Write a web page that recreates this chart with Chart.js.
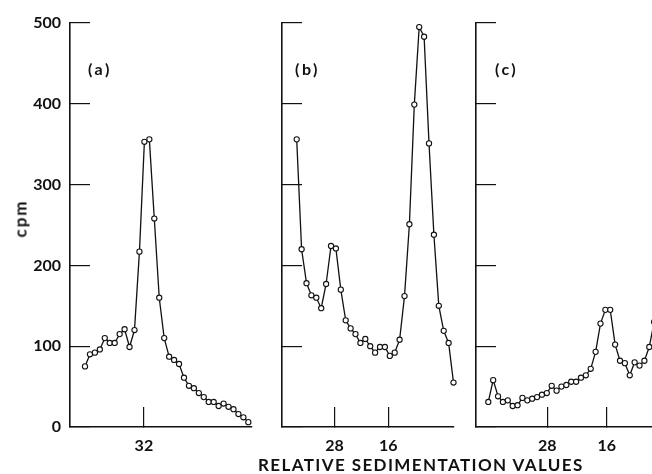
<!DOCTYPE html>
<html>
<head>
<meta charset="utf-8">
<script src="https://cdn.jsdelivr.net/npm/chart.js@4.4.1/dist/chart.umd.min.js"></script>
<style>
  html, body { margin: 0; padding: 0; background: #fff; }
  body { width: 652px; height: 474px; position: relative; overflow: hidden; font-family: Lato, "DejaVu Sans", sans-serif; color: #111; }
  canvas { position: absolute; top: 0; }
  .lbl { position: absolute; font-weight: bold; white-space: nowrap; }
  .tag { font-size: 16px; letter-spacing: 2.5px; top: 59px; }
</style>
</head>
<body>
<canvas id="chartA" width="262" height="474" style="left:0px"></canvas>
<canvas id="chartB" width="200" height="474" style="left:262px"></canvas>
<canvas id="chartC" width="250" height="474" style="left:462px"></canvas>

<div class="lbl tag" style="left:88px;">(a)</div>
<div class="lbl tag" style="left:295px;">(b)</div>
<div class="lbl tag" style="left:495px;">(c)</div>
<div class="lbl" style="left:-4px; top:208px; font-size:17px; letter-spacing:2px; transform: rotate(-90deg); transform-origin: 50% 50%; width:48px; text-align:center;">cpm</div>
<div class="lbl" style="left:258px; top:454px; font-size:17px; letter-spacing:1.4px;">RELATIVE SEDIMENTATION VALUES</div>

<script>
// Fraction numbers (x) and counts per minute (y) for each gradient
const fractionsA = [1, 2, 3, 4, 5, 6, 7, 8, 9, 10, 11, 12, 13, 14, 15, 16, 17, 18, 19, 20,
                    21, 22, 23, 24, 25, 26, 27, 28, 29, 30, 31, 32, 33, 34];
const cpmA = [75, 90, 92, 96, 110, 104, 104, 115, 121, 99, 120, 217, 353, 356, 258, 160, 110,
              87, 83, 78, 61, 51, 48, 42, 37, 31, 31, 26, 29, 25, 22, 16, 12, 6];

const fractionsB = [1, 2, 3, 4, 5, 6, 7, 8, 9, 10, 11, 12, 13, 14, 15, 16, 17, 18, 19, 20,
                    21, 22, 23, 24, 25, 26, 27, 28, 29, 30, 31, 32, 33];
const cpmB = [356, 220, 178, 163, 160, 147, 177, 224, 221, 170, 132, 122, 115, 104, 109, 100, 92,
              99, 99, 88, 92, 108, 162, 251, 399, 495, 483, 351, 238, 150, 119, 104, 55];

const fractionsC = [1, 2, 3, 4, 5, 6, 7, 8, 9, 10, 11, 12, 13, 14, 15, 16, 17, 18, 19, 20,
                    21, 22, 23, 24, 25, 26, 27, 28, 29, 30, 31, 32, 33, 34, 35];
const cpmC = [31, 58, 38, 31, 33, 26, 27, 36, 33, 35, 37, 40, 42, 51, 45, 50, 52, 56, 56, 61,
              64, 72, 93, 128, 145, 145, 102, 82, 79, 64, 80, 76, 82, 99, 130];

// Sedimentation markers on the x axis
const cpmTicks = [0, 100, 200, 300, 400, 500];
const markerPosA = [12.9];
const markerLabelsA = ['32'];
const markerPosB = [8.7, 19.7];
const markerLabelsB = ['28', '16'];
const markerPosC = [13.1, 25.3];
const markerLabelsC = ['28', '16'];

const INK = '#111';

Chart.defaults.font.family = 'Lato, "DejaVu Sans", sans-serif';
Chart.defaults.font.weight = 'bold';
Chart.defaults.font.size = 16;
Chart.defaults.color = INK;

function panel(id, fractions, values, xMin, xMax, markerPos, markerLabels, axisW, rightPad, showY) {
    return new Chart(document.getElementById(id), {
        type: 'line',
        data: {
            datasets: [{
                data: fractions.map((f, i) => ({ x: f, y: values[i] })),
                borderColor: INK,
                borderWidth: 1.3,
                pointRadius: 2.6,
                pointBackgroundColor: '#fff',
                pointBorderColor: INK,
                pointBorderWidth: 1.1,
                tension: 0,
                clip: false
            }]
        },
        options: {
            responsive: false,
            animation: false,
            events: [],
            layout: { padding: { top: 23, right: rightPad, bottom: 0, left: 0 }, autoPadding: false },
            plugins: { legend: { display: false }, tooltip: { enabled: false } },
            scales: {
                x: {
                    type: 'linear',
                    min: xMin,
                    max: xMax,
                    afterBuildTicks: s => { s.ticks = markerPos.map(v => ({ value: v })); },
                    afterFit: s => { s.height = 47; s.paddingLeft = 0; s.paddingRight = 0; },
                    ticks: { padding: 29, callback: (v, i) => markerLabels[i] },
                    grid: { drawOnChartArea: false, tickLength: -20, color: INK, lineWidth: 1.2 },
                    border: { color: INK, width: 1.6 }
                },
                y: {
                    min: 0,
                    max: 500,
                    afterBuildTicks: s => { s.ticks = cpmTicks.map(v => ({ value: v })); },
                    afterFit: s => { s.width = axisW; s.paddingTop = 0; s.paddingBottom = 0; },
                    ticks: { display: showY, padding: 29 },
                    grid: { drawOnChartArea: false, tickLength: -20, color: INK, lineWidth: 1.2 },
                    border: { color: INK, width: 1.6 }
                }
            }
        }
    });
}

document.addEventListener('DOMContentLoaded', function () {
    panel('chartA', fractionsA, cpmA, -2.03, 34.74, markerPosA, markerLabelsA, 70, 10, true);
    panel('chartB', fractionsB, cpmB, -2.0, 33.1, markerPosB, markerLabelsB, 20, 8, false);
    panel('chartC', fractionsC, cpmC, -1.52, 44.4, markerPosC, markerLabelsC, 14, 12, false);
});
</script>
</body>
</html>
